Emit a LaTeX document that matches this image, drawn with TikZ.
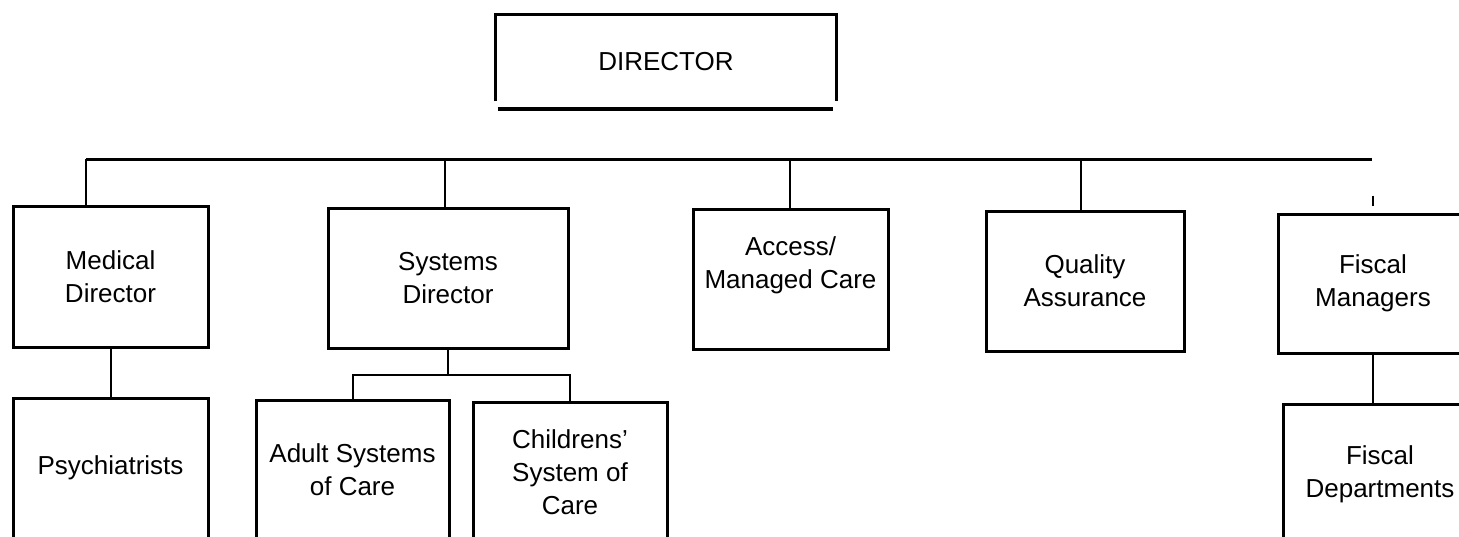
\documentclass[tikz,border=0pt]{standalone}
\usepackage{fontspec}
\setmainfont{Liberation Sans}
\begin{document}
\begin{tikzpicture}[x=0.5pt,y=-0.5pt,
  unit/.style={draw, line width=1.5pt, rectangle, inner sep=0pt, align=center,
    font=\fontsize{13}{16.5}\selectfont},
  link/.style={line width=1pt},
  bus/.style={line width=1.5pt},
]
\useasboundingbox (0,0) rectangle (1459,536);
\clip (0,0) rectangle (1459,536);

% top of the chart
\node[inner sep=0pt, minimum width=170pt, minimum height=47pt,
  font=\fontsize{13}{16.5}\selectfont] (dir) at (666,62) {DIRECTOR};
\draw[line width=1.3pt] ([yshift=4pt]dir.south west) -- (dir.north west)
  -- (dir.north east) -- ([yshift=4pt]dir.south east);
\draw[line width=2pt] ([xshift=1pt]dir.south west) -- ([xshift=-1.5pt]dir.south east);

% first level
\node[unit, minimum width=97.5pt, minimum height=70.5pt] (med) at (110.5,276.5) {Medical\\Director};
\node[unit, minimum width=120pt, minimum height=70pt] (sys) at (448,278) {Systems\\Director};
\node[unit, minimum width=97.5pt, minimum height=70pt] (acc) at (790.5,279) {Access/\\Managed Care\\\mbox{}};
\node[unit, minimum width=99pt, minimum height=70pt] (qa) at (1085,281) {Quality\\Assurance};
\node[unit, minimum width=95pt, minimum height=69.5pt] (fm) at (1373,283.5) {Fiscal\\Managers};

% second level
\node[unit, minimum width=97.5pt, minimum height=70pt] (psy) at (110.5,468) {Psychiatrists};
\node[unit, minimum width=96.5pt, minimum height=70pt] (adult) at (352.5,470) {Adult Systems\\of Care};
\node[unit, minimum width=97pt, minimum height=70pt] (child) at (570,472) {Childrens'\\System of\\Care};
\node[unit, minimum width=97pt, minimum height=70pt] (fd) at (1380,474) {Fiscal\\Departments};

% main bus and its taps
\coordinate (busL) at (86,159);
\coordinate (busR) at (1372,159);
\coordinate (tapSys) at (445,159);
\coordinate (tapAcc) at (790,159);
\coordinate (tapQA) at (1081,159);
\draw[bus] (busL) -- (busR);
\draw[link] (busL) -- (busL |- med.north);
\draw[link] (tapSys) -- (tapSys |- sys.north);
\draw[link] (tapAcc) -- (tapAcc |- acc.north);
\draw[link] (tapQA) -- (tapQA |- qa.north);
\draw[line width=0.8pt] ([yshift=8.5pt]fm.north) -- ([yshift=3.5pt]fm.north);

% lower links
\draw[link] (med.south) -- (psy.north);
\coordinate (sbus) at (0,375);
\draw[link] (sys.south) -- (sys.south |- sbus);
\draw[link] (adult.north) -- (adult.north |- sbus) -- (child.north |- sbus) -- (child.north);
\draw[line width=0.6pt] (fm.south) -- (fm.south |- fd.north);
\end{tikzpicture}
\end{document}
